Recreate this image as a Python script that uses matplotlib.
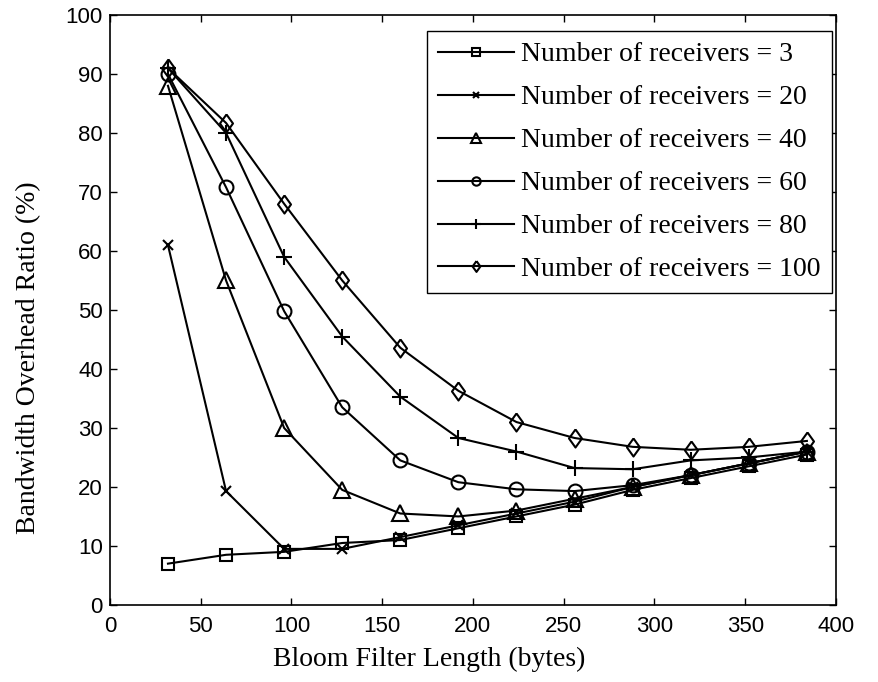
import matplotlib
matplotlib.use('Agg')
import matplotlib.pyplot as plt

lengths = [32, 64, 96, 128, 160, 192, 224, 256, 288, 320, 352, 384]
r3 = [7.0, 8.5, 9.0, 10.5, 11.0, 13.0, 15.0, 17.0, 19.5, 21.5, 23.5, 25.5]
r20 = [61.0, 19.3, 9.5, 9.5, 11.5, 13.5, 15.5, 17.5, 20.0, 22.0, 24.0, 26.0]
r40 = [88.0, 55.0, 30.0, 19.5, 15.5, 15.0, 16.0, 18.0, 20.0, 22.0, 24.0, 26.0]
r60 = [90.0, 70.8, 49.8, 33.5, 24.5, 20.8, 19.6, 19.3, 20.3, 22.0, 24.0, 26.0]
r80 = [91.0, 80.0, 59.0, 45.5, 35.3, 28.3, 26.0, 23.2, 23.0, 24.5, 25.0, 26.0]
r100 = [91.0, 81.7, 68.0, 55.0, 43.6, 36.3, 31.0, 28.3, 26.8, 26.3, 26.8, 27.8]

receivers = [3, 20, 40, 60, 80, 100]
series = [r3, r20, r40, r60, r80, r100]

# slightly tall diamond for the 100-receiver curve
diamond = [(0, 1), (0.72, 0), (0, -1), (-0.72, 0), (0, 1)]
markers = ['s', 'x', '^', 'o', '+', diamond]
msizes = [9, 7, 11, 10, 11, 13]

serif = ['Liberation Serif', 'DejaVu Serif']
sans = ['Liberation Sans', 'DejaVu Sans']

fig = plt.figure(figsize=(8.79, 6.82), dpi=100)
ax = fig.add_axes([0.125, 0.113, 0.826, 0.865])

for n, ys, m, ms in zip(receivers, series, markers, msizes):
    ax.plot(lengths, ys, color='black', lw=1.5, marker=m, ms=ms,
            mfc='none', mec='black', mew=1.5,
            label='Number of receivers = %d' % n)

ax.set_xlim(0, 400)
ax.set_ylim(0, 100)
ax.set_xticks(range(0, 401, 50))
ax.set_yticks(range(0, 101, 10))
ax.tick_params(direction='in', top=True, right=True, length=5, width=1,
               labelsize=16, pad=5)
ax.tick_params(axis='x', pad=8)
for lab in ax.get_xticklabels() + ax.get_yticklabels():
    lab.set_family(sans)
for s in ax.spines.values():
    s.set_linewidth(1.2)

ax.set_xlabel('Bloom Filter Length (bytes)', family=serif, fontsize=20)
ax.set_ylabel('Bandwidth Overhead Ratio (%)', family=serif, fontsize=20)
ax.xaxis.set_label_coords(0.44, -0.071)
ax.yaxis.set_label_coords(-0.095, 0.419)

leg = ax.legend(loc='upper right', bbox_to_anchor=(0.9945, 0.973),
                borderaxespad=0, prop={'family': serif, 'size': 20},
                handlelength=2.75, handletextpad=0.25, fancybox=False,
                edgecolor='black', framealpha=1, borderpad=0.4,
                labelspacing=0.63, markerscale=0.6)
leg.get_frame().set_linewidth(1.0)

fig.savefig('out.png', dpi=100)
